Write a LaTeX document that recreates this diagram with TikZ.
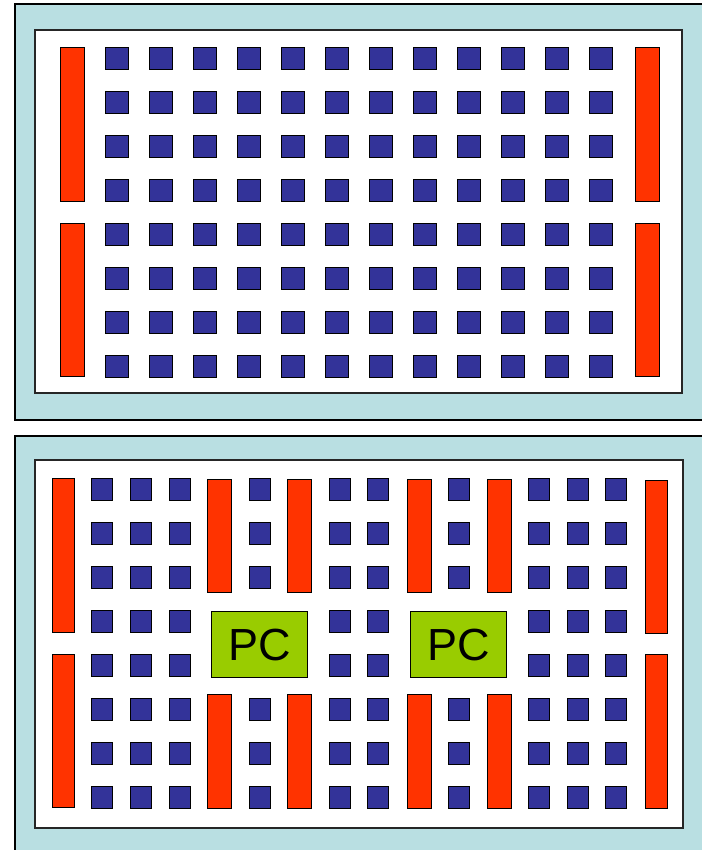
\documentclass[tikz,border=0pt]{standalone}
\usepackage{fontspec}
\setsansfont{Liberation Sans}
\usetikzlibrary{positioning}
\definecolor{Frame}{HTML}{B9DFE2}
\definecolor{Chip}{HTML}{333399}
\definecolor{Rail}{HTML}{FF3300}
\definecolor{Leaf}{HTML}{99CC00}
\tikzset{
 panel/.style={draw=black,line width=1.5pt,fill=Frame},
 board/.style={draw=black!85,line width=1.1pt,fill=white},
 cell/.style={draw=black,line width=1.2pt,fill=Chip,anchor=north west,inner sep=0pt,
   minimum width=23pt,minimum height=22pt},
 smallcell/.style={cell,minimum width=21pt},
 rail/.style={draw=black,line width=1.2pt,fill=Rail,anchor=north west,inner sep=0pt,
   minimum width=24pt},
 pcbox/.style={draw=black,line width=1.2pt,fill=Leaf,anchor=north west,inner sep=0pt,
   minimum width=96pt,minimum height=66pt,font=\sffamily\fontsize{45}{50}\selectfont}
}
\begin{document}
\begin{tikzpicture}[x=1pt,y=-1pt]
\useasboundingbox (0,0) rectangle (701,850);
% upper board
\draw[panel] (15,4) rectangle (710,420);
\draw[board] (35,30) rectangle (682,393);
\foreach \i in {0,...,11}
  \foreach \j in {0,...,7}
    \node[cell] (t-\i-\j) at ({105+44*\i},{47+44*\j}) {};
\node[rail,minimum height=154pt] (tl1) at (60,47) {};
\node[rail,minimum height=153pt] (tl2) at (60,223) {};
\node[rail,minimum height=154pt] (tr1) at (635,47) {};
\node[rail,minimum height=153pt] (tr2) at (635,223) {};
% lower board
\draw[panel] (15,436) rectangle (710,860);
\draw[board] (35,460) rectangle (683,828);
\foreach \x in {91,130,169,329,367,528,567,605}
  \foreach \j in {0,...,7}
    \node[smallcell] (b-\x-\j) at (\x,{478+44*\j}) {};
\foreach \x in {249,448}
  \foreach \j in {0,1,2,5,6,7}
    \node[smallcell] (b-\x-\j) at (\x,{478+44*\j}) {};
\node[rail,minimum width=22pt,minimum height=154pt] (bl1) at (52,478) {};
\node[rail,minimum width=22pt,minimum height=153pt] (bl2) at (52,654) {};
\node[rail,minimum width=22pt,minimum height=153pt] (br1) at (645,480) {};
\node[rail,minimum width=22pt,minimum height=154pt] (br2) at (645,654) {};
\foreach \x in {207,287,407,487}{
  \node[rail,minimum height=113pt] (m-\x-a) at (\x,479) {};
  \node[rail,minimum height=114pt] (m-\x-b) at (\x,694) {};
}
\node[pcbox] (pc1) at (211,611) {PC};
\node[pcbox] (pc2) at (410,611) {PC};
\end{tikzpicture}
\end{document}
